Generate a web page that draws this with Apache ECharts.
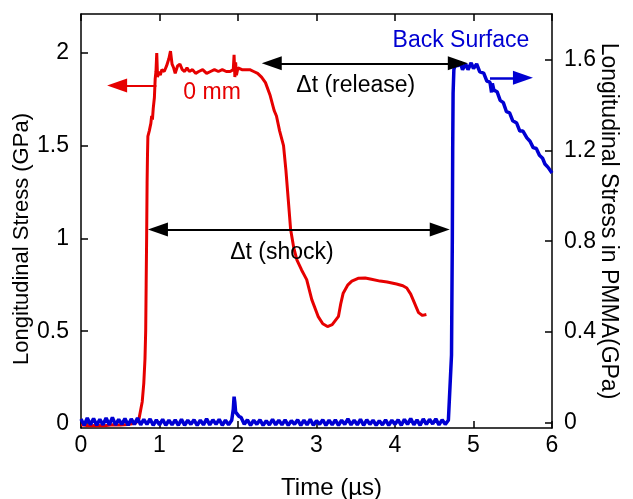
<!DOCTYPE html>
<html>
<head>
<meta charset="utf-8">
<script src="https://cdn.jsdelivr.net/npm/echarts@6/dist/echarts.min.js"></script>
<style>
  html, body { margin: 0; padding: 0; background: #fff; }
  #chart { width: 633px; height: 499px; }
</style>
</head>
<body>
<div id="chart"></div>
<script>
// 0 mm gauge (left axis, GPa)
const redTime = [0.00, 0.10, 0.20, 0.30, 0.40, 0.50, 0.60, 0.70, 0.74, 0.78, 0.80, 0.815, 0.824, 0.83, 0.836, 0.842, 0.847, 0.852, 0.86, 0.87, 0.88, 0.89, 0.90, 0.91, 0.92, 0.935, 0.945, 0.955, 0.965, 0.975, 0.99, 1.01, 1.03, 1.06, 1.09, 1.12, 1.14, 1.16, 1.18, 1.20, 1.23, 1.26, 1.29, 1.32, 1.35, 1.38, 1.42, 1.46, 1.50, 1.55, 1.60, 1.65, 1.70, 1.75, 1.80, 1.85, 1.90, 1.94, 1.95, 1.96, 1.97, 1.98, 2.00, 2.05, 2.10, 2.15, 2.20, 2.25, 2.30, 2.35, 2.41, 2.46, 2.49, 2.53, 2.58, 2.61, 2.64, 2.67, 2.71, 2.75, 2.81, 2.875, 2.94, 3.02, 3.08, 3.14, 3.20, 3.28, 3.31, 3.34, 3.40, 3.45, 3.53, 3.62, 3.70, 3.81, 3.90, 4.02, 4.10, 4.15, 4.20, 4.23, 4.27, 4.30, 4.35, 4.40];
const redStress = [-0.005, -0.01, -0.008, -0.01, -0.004, -0.006, -0.003, 0.005, 0.03, 0.12, 0.22, 0.35, 0.5, 0.75, 1.0, 1.3, 1.45, 1.55, 1.54, 1.58, 1.60, 1.62, 1.66, 1.64, 1.70, 1.76, 1.86, 1.90, 2.00, 1.87, 1.90, 1.88, 1.91, 1.90, 1.93, 1.97, 2.01, 1.94, 1.92, 1.89, 1.93, 1.94, 1.91, 1.90, 1.92, 1.90, 1.91, 1.89, 1.90, 1.91, 1.89, 1.90, 1.91, 1.90, 1.91, 1.90, 1.90, 1.91, 1.99, 1.87, 1.95, 1.88, 1.92, 1.91, 1.91, 1.91, 1.90, 1.89, 1.87, 1.84, 1.77, 1.69, 1.66, 1.58, 1.50, 1.37, 1.21, 1.05, 0.95, 0.885, 0.83, 0.778, 0.67, 0.58, 0.54, 0.525, 0.535, 0.58, 0.65, 0.705, 0.75, 0.77, 0.785, 0.787, 0.78, 0.77, 0.765, 0.754, 0.745, 0.733, 0.70, 0.67, 0.63, 0.60, 0.585, 0.59];

// back surface gauge (right axis, GPa in PMMA)
const blueTime = [0.00, 0.04, 0.08, 0.12, 0.16, 0.20, 0.24, 0.28, 0.32, 0.36, 0.40, 0.44, 0.48, 0.52, 0.56, 0.60, 0.64, 0.68, 0.72, 0.76, 0.80, 0.84, 0.88, 0.92, 0.96, 1.00, 1.04, 1.08, 1.12, 1.16, 1.20, 1.24, 1.28, 1.32, 1.36, 1.40, 1.44, 1.48, 1.52, 1.56, 1.60, 1.64, 1.68, 1.72, 1.76, 1.80, 1.84, 1.88, 1.92, 1.94, 1.95, 1.96, 1.97, 1.99, 2.01, 2.04, 2.08, 2.12, 2.16, 2.20, 2.24, 2.28, 2.32, 2.36, 2.40, 2.44, 2.48, 2.52, 2.56, 2.60, 2.64, 2.68, 2.72, 2.76, 2.80, 2.84, 2.88, 2.92, 2.96, 3.00, 3.04, 3.08, 3.12, 3.16, 3.20, 3.24, 3.28, 3.32, 3.36, 3.40, 3.44, 3.48, 3.52, 3.56, 3.60, 3.64, 3.68, 3.72, 3.76, 3.80, 3.84, 3.88, 3.92, 3.96, 4.00, 4.04, 4.08, 4.12, 4.16, 4.20, 4.24, 4.28, 4.32, 4.36, 4.40, 4.44, 4.48, 4.52, 4.56, 4.60, 4.64, 4.68, 4.70, 4.72, 4.73, 4.735, 4.74, 4.75, 4.77, 4.80, 4.83, 4.86, 4.90, 4.93, 4.97, 5.00, 5.04, 5.08, 5.13, 5.17, 5.21, 5.23, 5.24, 5.26, 5.30, 5.34, 5.38, 5.42, 5.46, 5.50, 5.55, 5.59, 5.63, 5.68, 5.72, 5.76, 5.80, 5.84, 5.88, 5.91, 5.95, 6.00];
const blueStress = [0.018, -0.010, 0.022, -0.008, 0.020, -0.010, 0.016, -0.008, 0.022, -0.008, 0.024, -0.008, 0.016, -0.006, 0.020, -0.010, 0.018, -0.006, 0.022, -0.008, 0.016, -0.006, 0.018, -0.010, 0.014, -0.008, 0.016, -0.010, 0.012, -0.008, 0.014, -0.010, 0.016, -0.010, 0.012, -0.006, 0.014, -0.010, 0.012, -0.008, 0.018, -0.008, 0.014, -0.006, 0.016, -0.010, 0.012, -0.008, 0.012, 0.060, 0.116, 0.090, 0.048, 0.050, 0.030, 0.024, -0.006, 0.014, -0.010, 0.012, -0.006, 0.014, -0.010, 0.010, -0.008, 0.016, -0.008, 0.012, -0.008, 0.014, -0.010, 0.010, -0.006, 0.014, -0.010, 0.012, -0.008, 0.016, -0.010, 0.010, -0.006, 0.014, -0.010, 0.012, -0.008, 0.014, -0.010, 0.012, -0.006, 0.018, -0.008, 0.012, -0.008, 0.016, -0.010, 0.014, -0.006, 0.012, -0.010, 0.010, -0.008, 0.014, -0.010, 0.012, -0.006, 0.014, -0.010, 0.016, -0.006, 0.020, -0.008, 0.014, -0.010, 0.018, -0.006, 0.016, -0.004, 0.018, -0.008, 0.014, -0.006, 0.012, 0.010, 0.30, 0.80, 1.20, 1.45, 1.556, 1.58, 1.57, 1.59, 1.555, 1.58, 1.555, 1.585, 1.56, 1.58, 1.545, 1.54, 1.505, 1.50, 1.455, 1.495, 1.465, 1.458, 1.42, 1.41, 1.37, 1.365, 1.33, 1.32, 1.285, 1.285, 1.255, 1.24, 1.212, 1.208, 1.178, 1.165, 1.14, 1.125, 1.10];

const leftTicks = [0, 0.5, 1, 1.5, 2];
const rightTicks = [0, 0.4, 0.8, 1.2, 1.6];

// arrows: [t1, y1, t2, y2] in data units (ends at the centre of the head)
const releaseArrow = [2.43, 1.944, 4.80, 1.944];
const shockArrow = [0.98, 1.048, 4.57, 1.048];
const redArrow = [0.96, 1.825, 0.46, 1.825];
const blueArrow = [5.21, 1.519, 5.63, 1.519];

// text labels: [t, y, text]
const leftLabels = [[1.67, 1.787, '0 mm'], [3.50, 1.825, 'Δt (release)'], [2.56, 0.923, 'Δt (shock)']];
const rightLabels = [[4.84, 1.684, 'Back Surface']];

const RED = '#e60000';
const BLUE = '#0000d2';
const FONT = 'Liberation Sans, Arial, sans-serif';

const chart = echarts.init(document.getElementById('chart'));

const zip = (a, b) => a.map((v, i) => [v, b[i]]);
const arrowLine = (a) => [{ coord: [a[0], a[1]] }, { coord: [a[2], a[3]] }];

const axisLine = { show: true, onZero: false, lineStyle: { color: '#000', width: 1.5 } };
const tickStyle = { color: '#000', width: 1.5 };

const option = {
  animation: false,
  textStyle: { fontFamily: FONT },
  grid: { left: 81, right: 81, top: 14, bottom: 71, outerBoundsMode: 'none', containLabel: false },
  xAxis: [
    {
      type: 'value', min: 0, max: 6, interval: 1,
      name: 'Time (µs)', nameLocation: 'middle', nameGap: 48, nameMoveOverlap: false,
      nameTextStyle: { fontSize: 24, color: '#000', fontFamily: FONT, padding: [0, 0, 0, 30] },
      axisLine: axisLine,
      axisTick: { inside: true, length: 7, lineStyle: tickStyle },
      axisLabel: { fontSize: 23, color: '#000', margin: 6, fontFamily: FONT },
      splitLine: { show: false }
    },
    {
      type: 'value', min: 0, max: 6, interval: 1, position: 'top',
      axisLine: axisLine,
      axisTick: { inside: true, length: 7, lineStyle: tickStyle },
      axisLabel: { show: false },
      splitLine: { show: false }
    }
  ],
  yAxis: [
    {
      type: 'value', min: -0.022, max: 2.21, position: 'left',
      name: 'Longitudinal Stress (GPa)', nameLocation: 'middle', nameGap: 48, nameMoveOverlap: false,
      nameTextStyle: { fontSize: 22, color: '#000', fontFamily: FONT, padding: [0, 36, 0, 0] },
      axisLine: axisLine,
      axisTick: { inside: true, length: 7, customValues: leftTicks, lineStyle: tickStyle },
      axisLabel: { fontSize: 23, color: '#000', margin: 12, customValues: leftTicks, fontFamily: FONT },
      splitLine: { show: false }
    },
    {
      type: 'value', min: -0.022, max: 1.8, position: 'right',
      name: 'Longitudinal Stress in PMMA(GPa)', nameLocation: 'middle', nameGap: 45, nameRotate: -90,
      nameMoveOverlap: false,
      nameTextStyle: { fontSize: 23, color: '#000', fontFamily: FONT },
      axisLine: axisLine,
      axisTick: { inside: true, length: 7, customValues: rightTicks, lineStyle: tickStyle },
      axisLabel: { fontSize: 23, color: '#000', margin: 12, customValues: rightTicks, fontFamily: FONT },
      splitLine: { show: false }
    }
  ],
  series: [
    {
      name: '0 mm', type: 'line', xAxisIndex: 0, yAxisIndex: 0, z: 2,
      data: zip(redTime, redStress), showSymbol: false,
      lineStyle: { color: RED, width: 3 },
      markLine: {
        silent: true, symbol: ['none', 'triangle'], symbolSize: [14, 20],
        label: { show: false },
        lineStyle: { color: RED, width: 2, type: 'solid' },
        data: [arrowLine(redArrow)]
      }
    },
    {
      name: 'Back Surface', type: 'line', xAxisIndex: 0, yAxisIndex: 1, z: 3,
      data: zip(blueTime, blueStress), showSymbol: false,
      lineStyle: { color: BLUE, width: 3.5 },
      markLine: {
        silent: true, symbol: ['none', 'triangle'], symbolSize: [14, 20],
        label: { show: false },
        lineStyle: { color: BLUE, width: 2.5, type: 'solid' },
        data: [arrowLine(blueArrow)]
      }
    },
    {
      name: 'arrows', type: 'line', xAxisIndex: 0, yAxisIndex: 0, z: 4,
      data: [], showSymbol: false,
      markLine: {
        silent: true, symbol: ['triangle', 'triangle'], symbolSize: [14, 20],
        label: { show: false },
        lineStyle: { color: '#000', width: 2, type: 'solid' },
        data: [arrowLine(releaseArrow), arrowLine(shockArrow)]
      }
    },
    {
      name: 'leftText', type: 'scatter', xAxisIndex: 0, yAxisIndex: 0, z: 5,
      symbolSize: 0, silent: true, itemStyle: { opacity: 1 },
      data: leftLabels.map(d => ({ value: [d[0], d[1]], name: d[2],
        label: { color: d[2] === '0 mm' ? RED : '#000' } })),
      label: { show: true, position: 'inside', formatter: p => p.name, fontSize: 23,
        color: '#000', opacity: 1, textBorderWidth: 0, fontFamily: FONT }
    },
    {
      name: 'rightText', type: 'scatter', xAxisIndex: 0, yAxisIndex: 1, z: 5,
      symbolSize: 0, silent: true, itemStyle: { opacity: 1 },
      data: rightLabels.map(d => ({ value: [d[0], d[1]], name: d[2] })),
      label: { show: true, position: 'inside', formatter: p => p.name, fontSize: 23,
        color: BLUE, opacity: 1, textBorderWidth: 0, fontFamily: FONT }
    }
  ]
};

chart.setOption(option);
</script>
</body>
</html>
